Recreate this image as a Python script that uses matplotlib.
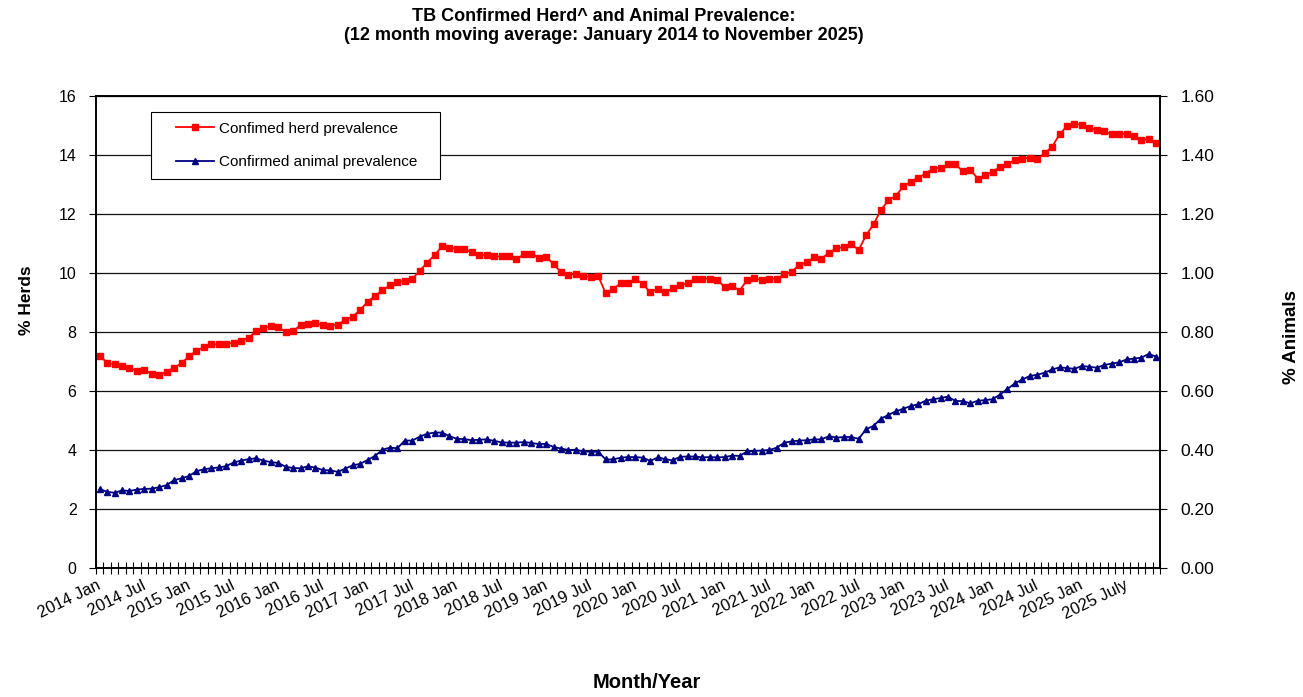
import matplotlib
matplotlib.use("Agg")
import matplotlib.pyplot as plt
import matplotlib.transforms as mtransforms
from matplotlib.patches import Rectangle
import numpy as np

plt.rcParams['font.family'] = ['Liberation Sans', 'DejaVu Sans']

# ---- data ----
start_year = 2014
n_months = 143  # Jan 2014 .. Nov 2025

herd_prev = [
    7.19, 6.96, 6.90, 6.85, 6.79, 6.68, 6.71, 6.59, 6.53, 6.66, 6.79, 6.94,
    7.18, 7.36, 7.49, 7.58, 7.58, 7.59, 7.64, 7.71, 7.80, 8.03, 8.14, 8.20,
    8.16, 8.01, 8.03, 8.24, 8.26, 8.29, 8.24, 8.21, 8.25, 8.41, 8.52, 8.75,
    9.02, 9.23, 9.41, 9.58, 9.69, 9.74, 9.80, 10.07, 10.35, 10.60, 10.90, 10.86,
    10.83, 10.81, 10.70, 10.61, 10.62, 10.56, 10.56, 10.56, 10.47, 10.63, 10.66, 10.52,
    10.53, 10.31, 10.02, 9.94, 9.98, 9.90, 9.86, 9.90, 9.31, 9.45, 9.65, 9.66,
    9.80, 9.63, 9.34, 9.47, 9.34, 9.48, 9.58, 9.65, 9.81, 9.81, 9.81, 9.77,
    9.52, 9.57, 9.40, 9.76, 9.82, 9.75, 9.81, 9.81, 9.95, 10.04, 10.27, 10.36,
    10.53, 10.49, 10.68, 10.84, 10.88, 10.98, 10.78, 11.28, 11.65, 12.14, 12.46, 12.61,
    12.94, 13.10, 13.23, 13.37, 13.54, 13.57, 13.68, 13.68, 13.45, 13.50, 13.20, 13.32,
    13.43, 13.60, 13.71, 13.82, 13.88, 13.91, 13.86, 14.06, 14.28, 14.70, 14.98, 15.06,
    15.02, 14.92, 14.85, 14.80, 14.70, 14.72, 14.72, 14.63, 14.51, 14.54, 14.41,
]

animal_prev = [
    0.268, 0.258, 0.255, 0.263, 0.261, 0.266, 0.268, 0.269, 0.274, 0.281, 0.298, 0.304,
    0.312, 0.328, 0.335, 0.338, 0.341, 0.345, 0.358, 0.364, 0.369, 0.372, 0.364, 0.359,
    0.356, 0.343, 0.339, 0.338, 0.345, 0.340, 0.332, 0.331, 0.326, 0.337, 0.348, 0.353,
    0.366, 0.380, 0.401, 0.408, 0.406, 0.432, 0.432, 0.445, 0.455, 0.459, 0.459, 0.447,
    0.438, 0.437, 0.433, 0.435, 0.436, 0.431, 0.426, 0.425, 0.425, 0.427, 0.424, 0.420,
    0.421, 0.410, 0.405, 0.400, 0.401, 0.395, 0.394, 0.394, 0.368, 0.368, 0.374, 0.376,
    0.376, 0.374, 0.363, 0.375, 0.369, 0.365, 0.377, 0.378, 0.378, 0.375, 0.376, 0.375,
    0.376, 0.381, 0.380, 0.395, 0.397, 0.398, 0.400, 0.408, 0.425, 0.429, 0.432, 0.433,
    0.436, 0.436, 0.447, 0.442, 0.444, 0.444, 0.438, 0.470, 0.482, 0.506, 0.519, 0.531,
    0.540, 0.549, 0.555, 0.567, 0.572, 0.576, 0.581, 0.566, 0.566, 0.558, 0.567, 0.569,
    0.572, 0.588, 0.607, 0.626, 0.639, 0.651, 0.655, 0.662, 0.673, 0.680, 0.678, 0.675,
    0.685, 0.682, 0.679, 0.688, 0.693, 0.697, 0.707, 0.710, 0.713, 0.726, 0.716,
]

label_step = 6
tick_labels = []
for i in range(0, n_months, label_step):
    y = start_year + i // 12
    m = "Jan" if i % 12 == 0 else "Jul"
    tick_labels.append(f"{y} {m}")
tick_labels[-1] = "2025 July"

title = "TB Confirmed Herd^ and Animal Prevalence:\n(12 month moving average: January 2014 to November 2025)"
legend_labels = ["Confimed herd prevalence", "Confirmed animal prevalence"]

# ---- figure ----
W, H = 1303, 697
fig = plt.figure(figsize=(W / 100, H / 100), dpi=100)
L, R, T, B = 96, 1160, 96, 568
ax = fig.add_axes([L / W, 1 - B / H, (R - L) / W, (B - T) / H])

x = np.arange(n_months)
ax.set_xlim(-0.5, n_months - 0.5)
ax.set_ylim(0, 16)
ax.set_yticks(np.arange(0, 17, 2))
ax.yaxis.grid(True, color='#111111', linewidth=0.9)
ax.set_axisbelow(True)

l1, = ax.plot(x, herd_prev, color='#FF0000', marker='s', markersize=4.8,
              linewidth=1.3, zorder=3)

ax2 = ax.twinx()
ax2.set_ylim(0, 1.6)
ax2.set_yticks(np.arange(0, 1.61, 0.2))
ax2.set_yticklabels([f"{v:.2f}" for v in np.arange(0, 1.61, 0.2)])
l2, = ax2.plot(x, animal_prev, color='#000080', marker='^', markersize=4.8,
               linewidth=1.3, zorder=3)

# x ticks
ax.set_xticks(np.arange(0, n_months, label_step))
ax.set_xticklabels(tick_labels, rotation=26, ha='right', va='top',
                   rotation_mode='anchor', fontsize=11.8)
ax.tick_params(axis='x', which='major', length=0, pad=7)
shift = mtransforms.ScaledTranslation(-3 / 100, 0, fig.dpi_scale_trans)
for lab in ax.get_xticklabels():
    lab.set_transform(lab.get_transform() + shift)
ax.set_xticks(np.arange(-0.5, n_months, 1), minor=True)
ax.tick_params(axis='x', which='minor', direction='inout', length=8, width=0.8)

ax.tick_params(axis='y', which='major', direction='out', length=5, width=0.8,
               labelsize=11.5, pad=9)
ax2.tick_params(axis='y', which='major', direction='out', length=5, width=0.8,
                labelsize=12.5, pad=10)

for a in (ax, ax2):
    for s in a.spines.values():
        s.set_linewidth(1.2)
        s.set_color('black')

fig.text(604 / W, 1 - 26 / H, title, ha='center', va='center',
         fontsize=13, fontweight='bold', linespacing=1.2)
fig.text(27 / W, 1 - 300 / H, "% Herds", rotation=90, ha='center', va='center',
         fontsize=12.5, fontweight='bold')
fig.text(1291 / W, 1 - 337 / H, "% Animals", rotation=90, ha='center', va='center',
         fontsize=13.5, fontweight='bold')
fig.text(647 / W, 1 - 683 / H, "Month/Year", ha='center', va='center',
         fontsize=14.5, fontweight='bold')

# legend frame drawn as a rectangle, legend entries inside it
frame = Rectangle((151 / W, 1 - 179 / H), (440 - 151) / W, (179 - 112) / H,
                  transform=fig.transFigure, facecolor='white',
                  edgecolor='black', linewidth=0.8, zorder=8, clip_on=False)
ax2.add_patch(frame)
leg = ax2.legend([l1, l2], legend_labels, loc='center left',
                 bbox_to_anchor=(176 / W, 1 - 145.5 / H), bbox_transform=fig.transFigure,
                 fontsize=11, frameon=False, borderpad=0, labelspacing=1.3,
                 handlelength=2.5, handletextpad=0.3, borderaxespad=0,
                 markerscale=0.85)
leg.set_zorder(10)

fig.savefig("out.png", dpi=100)
